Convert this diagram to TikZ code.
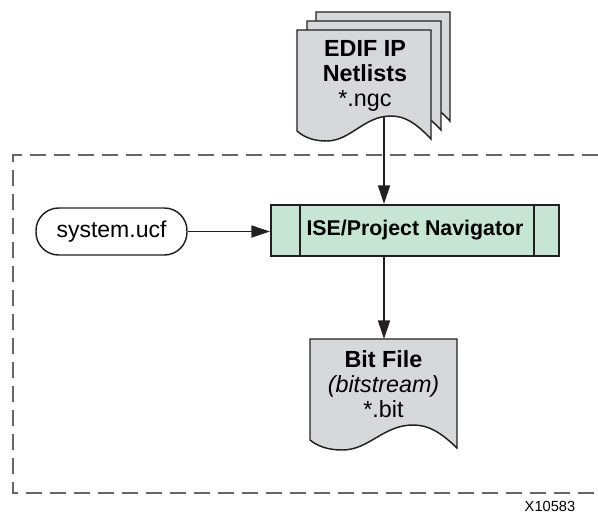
\documentclass[tikz,border=0pt]{standalone}
\usepackage{fontspec}
\setmainfont{Liberation Sans}
\usepackage{tikz}
\usetikzlibrary{positioning,arrows.meta}
\usepackage{xcolor}
\definecolor{docgray}{HTML}{D7D8DA}
\definecolor{navgreen}{HTML}{C6E6D3}
\definecolor{ink}{HTML}{231F20}

% sheet with wavy lower edge: left, top, width
\newcommand{\docsheet}[3]{%
  \filldraw[sheet] (#1,#2) -- ({#1+#3},#2) -- ({#1+#3},{#2+109})
    .. controls ({#1+0.88*#3},{#2+92}) and ({#1+0.8*#3},{#2+86}) .. ({#1+0.7*#3},{#2+86})
    .. controls ({#1+0.5*#3},{#2+86}) and ({#1+0.4*#3},{#2+111}) .. ({#1+0.22*#3},{#2+111})
    .. controls ({#1+0.12*#3},{#2+111}) and ({#1+0.05*#3},{#2+107}) .. (#1,{#2+101}) -- cycle;}

\begin{document}
\begin{tikzpicture}[x=0.75pt,y=-0.75pt,
  >={Triangle[length=14pt,width=9pt]},
  sheet/.style={draw=ink,fill=docgray,line width=1.1pt},
  flow/.style={->,draw=ink,line width=1.3pt},
  frame/.style={draw=black!60,line width=0.9pt,dash pattern=on 12pt off 6pt},
  doctext/.style={align=center,inner sep=0pt,font=\fontsize{17.5}{18.75}\selectfont}]
\useasboundingbox (0,0) rectangle (598,518);
\draw[frame] (598,155) -- (13,155) -- (13,493) -- (598,493);

% netlist stack
\docsheet{316}{12}{134}
\docsheet{307}{21}{134}
\docsheet{297}{30}{134}
\node[doctext] (edif) at (365,76) {\textbf{EDIF IP}\\\textbf{Netlists}\\*.ngc};
\coordinate (edif-out) at (384,117);

\node[draw=ink,fill=navgreen,line width=1.5pt,minimum width=216pt,minimum height=38.25pt,
  font=\fontsize{16}{18}\selectfont\bfseries] (nav) at (415,230.5) {ISE/Project Navigator};
\draw[ink,line width=1.5pt] (nav.north west) ++(30,0) -- ++(0,51);
\draw[ink,line width=1.5pt] (nav.north east) ++(-26,0) -- ++(0,51);

\node[draw=ink,line width=1.1pt,rounded corners=17pt,minimum width=113.25pt,minimum height=35.25pt,
  font=\fontsize{17.25}{20}\selectfont] (ucf) at (111.5,231.5) {system.ucf};

% bit file
\docsheet{310}{339}{147}
\node[doctext] (bit) at (383.5,384) {\textbf{Bit File}\\\textit{(bitstream)}\\*.bit};
\coordinate (bit-in) at (384,339);

\draw[flow] (edif-out) -- (edif-out |- nav.north);
\draw[flow] (ucf.east) -- (ucf.east -| nav.west);
\draw[flow] (bit-in |- nav.south) -- (bit-in);

\node[font=\fontsize{11}{13}\selectfont,inner sep=0pt] (fig) at (550,506) {X10583};
\end{tikzpicture}
\end{document}
